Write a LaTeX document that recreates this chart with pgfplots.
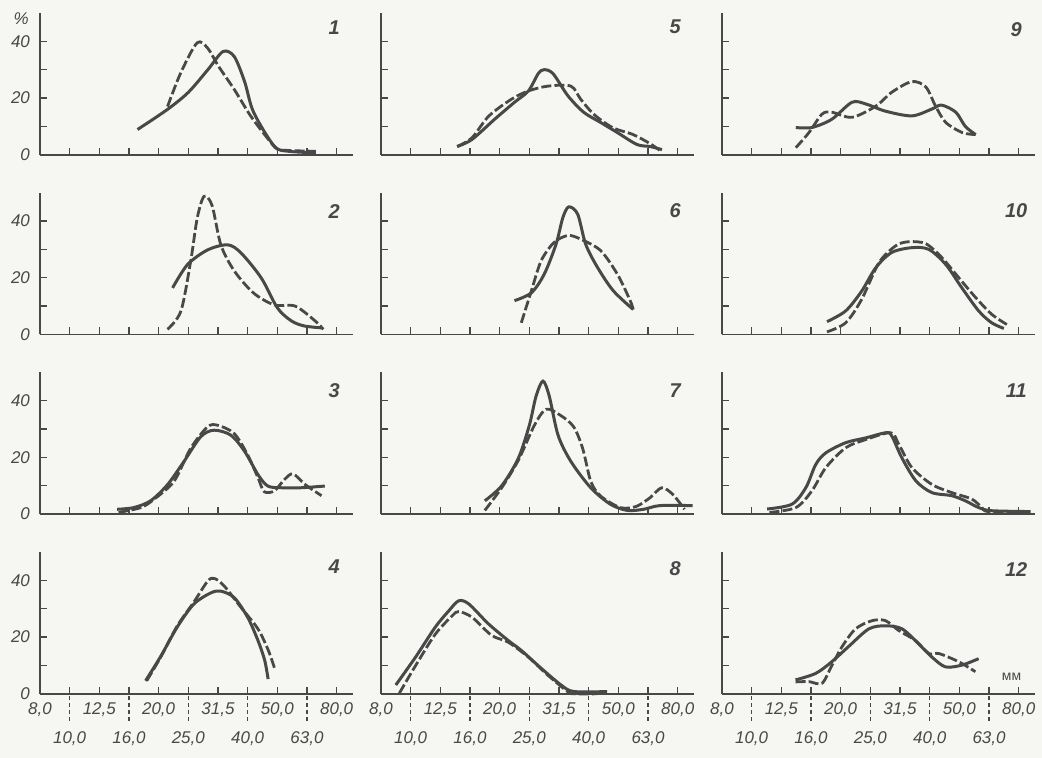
\documentclass[border=0pt]{standalone}
\usepackage{fontspec}
\setmainfont{Liberation Sans}
\usepackage{pgfplots}
\pgfplotsset{compat=1.18}
\usepgfplotslibrary{groupplots}
\usetikzlibrary{calc}
\definecolor{ink}{RGB}{72,72,72}
\definecolor{paper}{RGB}{246,246,243}
\pgfdeclarelayer{background}
\pgfsetlayers{background,main}

\tikzset{num/.style={font=\fontsize{10}{12}\selectfont\bfseries\itshape, text=ink}}
\pgfplotsset{
  panel/.style={width=156.8pt, height=71pt, scale only axis,
    xmin=0, xmax=10.55, ymin=0, ymax=50,
    axis x line*=bottom, axis y line*=left,
    axis line style={ink, line width=0.8pt, -},
    xtick={0,...,10}, xticklabels={}, ytick={0,10,20,30,40}, yticklabels={},
    tick align=inside, major tick length=3.5pt,
    tick style={ink, line width=0.7pt},
    tick label style={font=\fontsize{8.5}{9}\selectfont\itshape, text=ink},
    yticklabel style={xshift=-1.5pt},
    clip=false},
  leftcol/.style={yticklabels={0,{},20,{},40}},
  bottomrow/.style={
    xticklabels={{8,0},{},{12,5},{},{20,0},{},{31,5},{},{50,0},{},{80,0}},
    xticklabel style={yshift=-1pt},
    extra x ticks={1,3,5,7,9},
    extra x tick labels={{10,0},{16,0},{25,0},{40,0},{63,0}},
    extra x tick style={tick align=outside, major tick length=13.5pt,
      xticklabel style={yshift=-1pt},
      tick style={ink, line width=0.6pt, dash pattern=on 2pt off 1.5pt}}},
  sol/.style={draw=ink, line width=1.5pt, smooth, no marks},
  das/.style={draw=ink, line width=1.4pt, smooth, no marks, dash pattern=on 5pt off 1.6pt},
}

\begin{document}
\begin{tikzpicture}
\begin{groupplot}[group style={group size=3 by 4, horizontal sep=14pt, vertical sep=19pt},
  panel]

% row 1: panels 1, 5, 9
\nextgroupplot[leftcol]
\addplot[sol] coordinates {(3.29,8.9) (4.3,16) (5.0,22) (5.66,30) (6.17,36.4) (6.55,34.6) (6.9,25.7) (7.2,15) (7.9,3) (8.4,1.2) (9.3,0.7)};
\addplot[das] coordinates {(4.3,17) (4.75,29) (5.3,39.5) (5.66,37.5) (6.0,31.5) (6.55,23) (7.1,13.7) (7.7,5.4) (8.0,2) (8.4,1.5) (9.3,1.2)};
\node[num] at (rel axis cs:0.94,0.9) {1};
\node[font=\fontsize{8.5}{9}\selectfont\itshape, text=ink] at (rel axis cs:-0.06,0.96) {\%};

\nextgroupplot
\addplot[sol] coordinates {(2.57,2.9) (3.07,5.4) (3.83,12.5) (4.5,18.5) (4.97,22.5) (5.3,28.6) (5.5,30) (5.8,28.6) (6.3,20.8) (6.83,15) (7.4,11.4) (7.97,7.8) (8.63,3.6) (9.07,2.9) (9.47,1.8)};
\addplot[das] coordinates {(2.57,2.9) (3.07,6) (3.63,13.6) (4.4,19.6) (4.97,22.5) (5.63,24.2) (6.4,24.2) (6.73,19.6) (7.17,14.3) (7.8,9.6) (8.5,7.1) (9.07,3.9) (9.47,1)};
\node[num] at (rel axis cs:0.94,0.9) {5};

\nextgroupplot
\addplot[sol] coordinates {(2.49,9.6) (3.03,9.6) (3.7,12.5) (4.38,18.5) (4.85,17.9) (5.5,15.4) (6.4,13.7) (7.07,16.1) (7.4,17.5) (7.88,15) (8.2,10) (8.55,7.1)};
\addplot[das] coordinates {(2.49,2.5) (2.93,7.8) (3.37,14.3) (3.7,15) (4.38,13.2) (5.18,17.1) (5.73,22.1) (6.4,25.8) (6.87,23.9) (7.2,17.1) (7.54,11.4) (8.1,7.8) (8.55,7.1)};
\node[num] at (rel axis cs:0.94,0.88) {9};

% row 2: panels 2, 6, 10
\nextgroupplot[leftcol]
\addplot[sol] coordinates {(4.47,16.4) (4.97,24.6) (5.65,29.8) (6.33,31.6) (6.78,28.7) (7.46,19.9) (8.0,9.4) (8.47,4.8) (8.9,3) (9.5,2.3)};
\addplot[das] coordinates {(4.3,1.8) (4.75,8.2) (5.08,25.8) (5.3,41) (5.53,48.7) (5.8,45.5) (6.1,31.5) (6.55,22.4) (7.2,14.6) (7.9,10.4) (8.6,10) (9.27,4.8) (9.55,1.8)};
\node[num] at (rel axis cs:0.94,0.87) {2};

\nextgroupplot
\addplot[sol] coordinates {(4.5,11.9) (5.07,14.7) (5.5,21.2) (5.9,31.8) (6.13,41.2) (6.33,45) (6.63,42.4) (6.9,31.8) (7.3,23.6) (7.83,15.4) (8.5,8.8)};
\addplot[das] coordinates {(4.73,4.1) (5.07,15.4) (5.4,26) (5.83,32.4) (6.3,34.9) (6.73,33.6) (7.4,29.6) (7.97,21.2) (8.4,11.9) (8.5,8.8)};
\node[num] at (rel axis cs:0.94,0.87) {6};

\nextgroupplot
\addplot[sol] coordinates {(3.54,4.5) (4.17,8.3) (4.71,15.3) (5.18,23.5) (5.72,28.9) (6.4,30.6) (6.97,30) (7.54,24.7) (8.08,16.5) (8.65,8.3) (9.09,4.1) (9.5,2.1)};
\addplot[das] coordinates {(3.54,0.9) (4.17,4.1) (4.71,12.4) (5.29,25.3) (5.86,31.3) (6.3,32.7) (6.87,32) (7.41,27.1) (7.98,20) (8.55,13) (9.09,7.1) (9.6,3.5)};
\node[num] at (rel axis cs:0.94,0.87) {10};

% row 3: panels 3, 7, 11
\nextgroupplot[leftcol]
\addplot[sol] coordinates {(2.6,1.7) (3.16,2.3) (3.73,4.7) (4.3,10.4) (4.85,18.5) (5.42,27.3) (5.87,29.6) (6.44,27.8) (6.9,22.1) (7.35,13.9) (7.68,9.9) (8.14,9.3) (8.8,9.3) (9.6,9.9)};
\addplot[das] coordinates {(2.65,0.6) (3.4,2.3) (3.84,5.2) (4.52,11.6) (5.08,23.2) (5.65,30.8) (6.0,31.3) (6.55,28.4) (7.0,20.9) (7.35,12.8) (7.56,7.9) (7.9,8.2) (8.24,12.2) (8.53,14.2) (8.94,10.4) (9.49,6.5)};
\node[num] at (rel axis cs:0.94,0.87) {3};

\nextgroupplot
\addplot[sol] coordinates {(3.5,4.7) (4.07,10) (4.63,19.7) (5.0,31.3) (5.23,41.7) (5.46,46.9) (5.67,41.7) (5.97,27.8) (6.4,18.6) (7.07,9.3) (7.73,3.5) (8.3,1.3) (8.85,1.7) (9.4,3) (10.5,3)};
\addplot[das] coordinates {(3.5,1.3) (4.07,9.3) (4.63,19) (5.17,31.3) (5.57,37) (6.07,34.7) (6.5,30.7) (6.8,23.1) (7.07,11.6) (7.4,6.4) (8.07,2.3) (8.6,2.7) (9.07,5.8) (9.46,9.3) (9.83,7) (10.23,1.7)};
\node[num] at (rel axis cs:0.94,0.87) {7};

\nextgroupplot
\addplot[sol] coordinates {(1.52,1.8) (2.36,3.5) (2.83,9.4) (3.16,17.5) (3.5,21.6) (4.17,25.2) (4.85,26.9) (5.52,28.7) (5.72,27.6) (6.06,19.9) (6.53,11.8) (7.07,7.6) (7.74,6.5) (8.2,4.7) (8.65,2.3) (9.09,1.2) (10.4,0.9)};
\addplot[das] coordinates {(1.6,0.6) (2.49,2.3) (3.03,8.2) (3.5,16.4) (4.17,23.4) (4.85,26.3) (5.69,28.7) (5.96,24.6) (6.4,16.4) (7.07,10.5) (7.74,7.6) (8.42,5.3) (8.76,2.3) (8.99,0.9) (10.4,0.9)};
\node[num] at (rel axis cs:0.94,0.87) {11};

% row 4: panels 4, 8, 12
\nextgroupplot[leftcol, bottomrow]
\addplot[sol] coordinates {(3.56,4.6) (4.07,13.2) (4.63,23.6) (5.19,31.7) (5.76,35.6) (6.1,36.2) (6.55,33.9) (7.0,27) (7.34,19) (7.57,12) (7.69,5.2)};
\addplot[das] coordinates {(3.6,4.6) (4.1,13.5) (4.63,24) (5.19,32.4) (5.65,39.7) (5.88,40.7) (6.22,37.9) (6.78,30.4) (7.34,23) (7.69,15.5) (7.92,8.6)};
\node[num] at (rel axis cs:0.94,0.9) {4};

\nextgroupplot[bottomrow]
\addplot[sol] coordinates {(0.5,3.1) (1.17,13) (1.83,23.5) (2.29,29.3) (2.62,32.8) (2.96,31.7) (3.62,24.7) (4.29,18.8) (4.73,15.3) (5.4,9) (6.07,3.1) (6.5,0.8) (7.62,0.8)};
\addplot[das] coordinates {(0.62,0.2) (1.17,10) (1.83,21) (2.4,27.5) (2.62,29) (3.07,27) (3.73,20.6) (4.29,18.2) (4.96,13) (5.62,6.6) (6.29,0.8) (6.5,0) (7.3,0)};
\node[num] at (rel axis cs:0.94,0.88) {8};

\nextgroupplot[bottomrow]
\addplot[sol] coordinates {(2.48,4.9) (3.16,7.2) (3.7,11.3) (4.28,16.8) (4.95,22.9) (5.51,24) (6.07,22.9) (6.63,17.6) (7.07,13) (7.53,9.5) (8.08,10.1) (8.65,12.4)};
\addplot[das] coordinates {(2.48,4.2) (2.93,4.3) (3.37,3.7) (3.7,9.9) (4.04,16.5) (4.5,22.9) (5.06,25.8) (5.51,25.8) (5.96,22.3) (6.52,18.8) (6.97,14.2) (7.31,14.2) (7.98,11.3) (8.54,7.8)};
\node[num] at (rel axis cs:0.94,0.88) {12};
\node[font=\fontsize{7}{8}\selectfont, text=ink] at (axis cs:9.76,6) {мм};
\end{groupplot}
\begin{pgfonlayer}{background}
\fill[paper] ($(group c1r1.north west)+(-20pt,6.5pt)$) rectangle ($(group c3r4.south east)+(3.5pt,-32pt)$);
\end{pgfonlayer}
\end{tikzpicture}
\end{document}
